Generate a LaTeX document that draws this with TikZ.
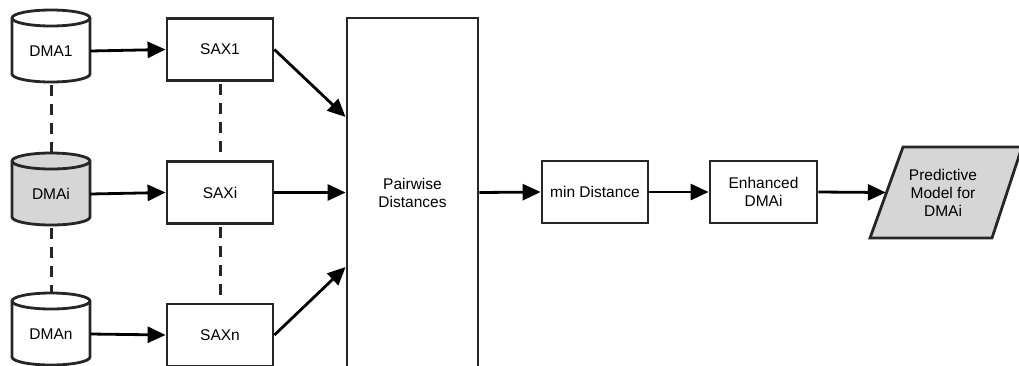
\documentclass[tikz,border=0pt]{standalone}
\usepackage{fontspec}
\setmainfont{Liberation Sans}
\usetikzlibrary{arrows.meta}
\definecolor{linec}{HTML}{262626}
\definecolor{shade}{HTML}{D6D6D6}
\newcommand\dbcylinder[3]{% #1 center x, #2 top y, #3 fill
  \filldraw[fill=#3,draw=linec,line width=2.8pt] ({#1-39},{#2+8}) -- ({#1-39},{#2+64})
    arc[start angle=180,end angle=360,x radius=39pt,y radius=8pt] -- ({#1+39},{#2+8})
    arc[start angle=0,end angle=180,x radius=39pt,y radius=8pt] -- cycle;
  \draw[linec,line width=2.8pt] ({#1-39},{#2+8}) arc[start angle=180,end angle=360,x radius=39pt,y radius=8pt];
}
\tikzset{
  lbl/.style={font=\fontsize{15.5}{18}\selectfont, align=center, inner sep=0pt},
  box/.style={lbl, draw=linec, line width=2.8pt, fill=white, minimum width=106pt, minimum height=62pt},
  cyltext/.style={lbl, minimum width=78pt, minimum height=62pt},
  conn/.style={line width=2.8pt, black, -{Triangle[length=18pt,width=16pt]}},
  dashline/.style={line width=3pt, linec, dash pattern=on 11pt off 8pt}
}
\begin{document}
\begin{tikzpicture}[x=1pt,y=-1pt]
\useasboundingbox (0,0) rectangle (1019,365);
\clip (0,0) rectangle (1019,365);

% databases
\dbcylinder{51}{10}{white}
\node[cyltext] (dma1) at (51,51) {DMA1};
\dbcylinder{51}{153}{shade}
\node[cyltext] (dmai) at (51,194) {DMAi};
\dbcylinder{51}{293}{white}
\node[cyltext] (dman) at (51,334) {DMAn};

% SAX boxes
\node[box] (sax1) at (220,49.5) {SAX1};
\node[box] (saxi) at (220,192.5) {SAXi};
\node[box] (saxn) at (220,335) {SAXn};

% pairwise
\node[box, minimum width=131pt, minimum height=349pt] (pw) at (412.5,192.5) {Pairwise\\Distances};

% right chain
\node[box] (mind) at (595,192) {min Distance};
\node[box, minimum width=107pt] (enh) at (763.5,192) {Enhanced\\DMAi};
\filldraw[fill=shade, draw=linec, line width=2.8pt] (870,238) -- (903,147) -- (1022,147) -- (992,238) -- cycle;
\node[lbl, minimum width=114pt, minimum height=91pt] (pm) at (943,192.5) {Predictive\\Model for\\DMAi};

% dashed links
\draw[dashline, shorten <=3pt] (dma1.south) -- ([yshift=10pt]dmai.north);
\draw[dashline, shorten <=3pt] (dmai.south) -- ([yshift=10pt]dman.north);
\draw[dashline, shorten <=2pt, shorten >=3pt] (sax1.south) -- (saxi.north);
\draw[dashline, shorten <=2pt, shorten >=3pt] (saxi.south) -- (saxn.north);

% connectors
\draw[conn] (dma1.east) -- (sax1.west);
\draw[conn] (dmai.east) -- (saxi.west);
\draw[conn] (dman.east) -- (saxn.west);
\draw[conn] (sax1.east) -- ([yshift=75.5pt]pw.west);
\draw[conn] (saxi.east) -- (pw.west);
\draw[conn] (saxn.east) -- ([yshift=-74.5pt]pw.west);
\draw[conn] (pw.east) -- (mind.west);
\draw[conn] (mind.east) -- (enh.west);
\draw[conn] (enh.east) -- (pm.west);
\end{tikzpicture}
\end{document}
